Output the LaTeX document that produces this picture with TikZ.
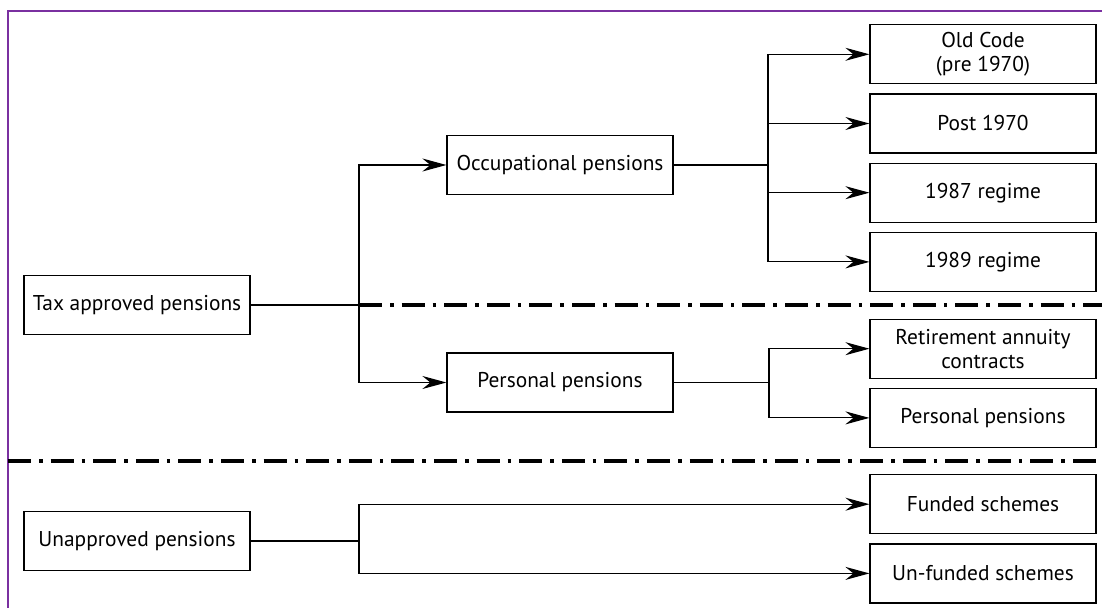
\documentclass[tikz,border=0pt]{standalone}
\usepackage{fontspec}
\setmainfont{PT Sans}
\usetikzlibrary{positioning,arrows.meta}
\definecolor{framepurple}{RGB}{122,48,160}

\begin{document}
\begin{tikzpicture}[
    x=0.5pt, y=-0.5pt,
    node distance = 4.5pt,
    font=\fontsize{10.7}{12}\selectfont,
    box/.style={draw=black, line width=0.6pt, minimum width=113pt,
      minimum height=29.5pt, inner sep=0pt, align=center},
    link/.style={line width=0.6pt},
    arr/.style={link, -{Stealth[length=12pt, width=6.5pt, inset=4pt]}},
    sep/.style={line width=2pt, dash pattern=on 11.5pt off 4pt on 1.8pt off 4pt},
    frame/.style={draw=framepurple, line width=0.6pt}]
    \useasboundingbox (0,0) rectangle (1102,608);
    % FRAME
    \draw[frame] (8,608) -- (8,11) -- (1102,11);

    % NODES
    % left column
    \node[box] (tax) at (137,305) {Tax approved pensions};
    \node[box] (unapp) at (137,541) {Unapproved pensions};
    % middle column
    \node[box] (occ) at (560,165) {Occupational pensions};
    \node[box] (pers) at (560,382.5) {Personal pensions};
    % right column, occupational
    \node[box] (old) at (983,54.3) {Old Code\\(pre 1970)};
    \node[box, below = of old] (post) {Post 1970};
    \node[box, below = of post] (r87) {1987 regime};
    \node[box, below = of r87] (r89) {1989 regime};
    % right column, personal
    \node[box] (rac) at (983,348.7) {Retirement annuity\\contracts};
    \node[box, below = of rac] (pp) {Personal pensions};
    % right column, unapproved
    \node[box] (fund) at (983,504.2) {Funded schemes};
    \node[box, below = of fund] (unfund) {Un-funded schemes};

    % forks
    \coordinate (taxfork) at (359,305);
    \coordinate (occfork) at (768,165);
    \coordinate (persfork) at (769,382.5);
    \coordinate (unappfork) at (359,541);
    \coordinate (upend) at (1102,305);
    \coordinate (lowstart) at (8,461);
    \coordinate (lowend) at (1102,461);

    % ARROWS
    \draw[link] (tax) -- (taxfork);
    \draw[arr] (taxfork) |- (occ);
    \draw[arr] (taxfork) |- (pers);
    \draw[link] (occ) -- (occfork);
    \foreach \t in {old,post,r87,r89}
      \draw[arr] (occfork) |- (\t);
    \draw[link] (pers) -- (persfork);
    \foreach \t in {rac,pp}
      \draw[arr] (persfork) |- (\t);
    \draw[link] (unapp) -- (unappfork);
    \foreach \t in {fund,unfund}
      \draw[arr] (unappfork) |- (\t);

    % SEPARATORS
    \draw[sep] (taxfork) -- (upend);
    \draw[sep] (lowstart) -- (lowend);
  \end{tikzpicture}
\end{document}
